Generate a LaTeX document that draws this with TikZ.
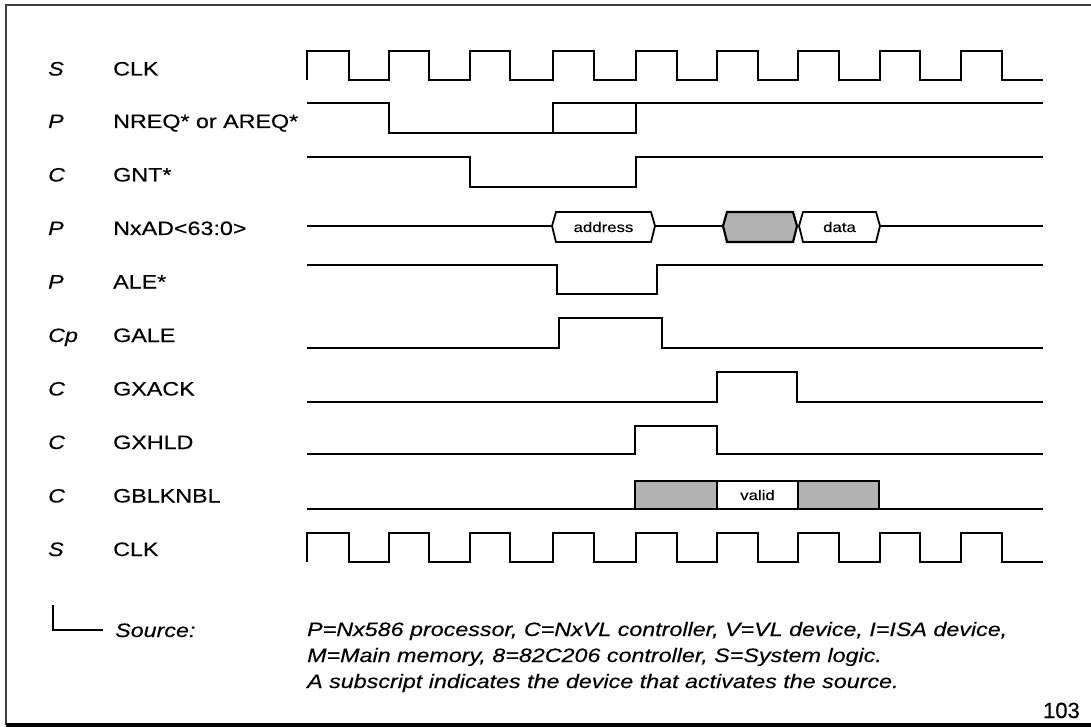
\documentclass[tikz,border=0pt]{standalone}
\usepackage{fontspec}
\setmainfont{Liberation Sans}[FakeStretch=1.2,FakeBold=0.3]
\newfontfamily\numfont{Liberation Sans}[FakeBold=0.3]
\begin{document}
\begin{tikzpicture}[x=1pt,y=-1pt,
  sig/.style={line width=1.8pt, line join=miter},
  frame/.style={line width=1.2pt, draw=black!75},
  src/.style={anchor=base west, inner sep=0pt, font=\fontsize{19.4}{23}\selectfont\itshape},
  nm/.style={anchor=base west, inner sep=0pt, font=\fontsize{19.4}{23}\selectfont},
  boxtxt/.style={inner sep=0pt, font=\fontsize{14}{16}\selectfont},
  shade/.style={fill=black!30, draw=black, line width=2.2pt},
  legend/.style={anchor=base west, inner sep=0pt, font=\fontsize{19.4}{23}\selectfont\itshape}]
\useasboundingbox (0,0) rectangle (1091,727);
% frame
\draw[frame] (1091,5) -- (6,5) -- (6,725);
\draw[line width=3.5pt] (6,725) -- (1091,725);

% labels
\node[src] (s0) at (48,75.5) {S};     \node[nm] (n0) at (113,75.5) {CLK};
\node[src] (s1) at (48,128)  {P};     \node[nm] (n1) at (113,128)  {NREQ* or AREQ*};
\node[src] (s2) at (48,181.5){C};     \node[nm] (n2) at (113,181.5){GNT*};
\node[src] (s3) at (48,235)  {P};     \node[nm] (n3) at (113,235)  {NxAD<63:0>};
\node[src] (s4) at (48,288.5){P};     \node[nm] (n4) at (113,288.5){ALE*};
\node[src] (s5) at (48,342)  {Cp};    \node[nm] (n5) at (113,342)  {GALE};
\node[src] (s6) at (48,395.5){C};     \node[nm] (n6) at (113,395.5){GXACK};
\node[src] (s7) at (48,449)  {C};     \node[nm] (n7) at (113,449)  {GXHLD};
\node[src] (s8) at (48,502.5){C};     \node[nm] (n8) at (113,502.5){GBLKNBL};
\node[src] (s9) at (48,556)  {S};     \node[nm] (n9) at (113,556)  {CLK};

% CLK top
\draw[sig] (307,80) foreach \r/\f in {307/349,389/429,470/510,553/594,636/677,717/758,798/839,880/920,961/1002}
  { -- (\r,80) -- (\r,51) -- (\f,51) -- (\f,80) } -- (1043,80);
% NREQ / AREQ
\draw[sig] (307,103) -- (389,103) -- (389,133) -- (636,133) -- (636,103);
\draw[sig] (553,133) -- (553,103) -- (1043,103);
% GNT
\draw[sig] (307,157) -- (470,157) -- (470,187) -- (636,187) -- (636,157) -- (1043,157);
% NxAD bus
\draw[sig] (307,226) -- (552,226);
\draw[sig] (655,226) -- (723,226);
\draw[sig] (880,226) -- (1043,226);
\draw[sig] (552,226) -- (556,212) -- (651,212) -- (655,226) -- (651,242) -- (556,242) -- cycle;
\node[boxtxt] (addr) at (603.5,227) {address};
\draw[shade] (723,226) -- (727,212) -- (793,212) -- (797,226) -- (793,242) -- (727,242) -- cycle;
\draw[sig] (799,226) -- (803,212) -- (876,212) -- (880,226) -- (876,242) -- (803,242) -- cycle;
\node[boxtxt] (data) at (839.5,227) {data};
% ALE
\draw[sig] (307,265) -- (557,265) -- (557,294) -- (657,294) -- (657,265) -- (1043,265);
% GALE
\draw[sig] (307,348) -- (559,348) -- (559,318) -- (662,318) -- (662,348) -- (1043,348);
% GXACK
\draw[sig] (307,402) -- (717,402) -- (717,372) -- (797,372) -- (797,402) -- (1043,402);
% GXHLD
\draw[sig] (307,454) -- (635,454) -- (635,426) -- (717,426) -- (717,454) -- (1043,454);
% GBLKNBL
\draw[shade] (635,481) rectangle (717,509);
\draw[shade] (798,481) rectangle (879,509);
\draw[sig] (717,481) -- (798,481);
\draw[sig] (307,509) -- (1043,509);
\node[boxtxt] (valid) at (757.5,495) {valid};
% CLK bottom
\draw[sig] (307,562) foreach \r/\f in {307/349,389/429,470/510,553/594,636/677,717/758,798/839,880/920,961/1002}
  { -- (\r,562) -- (\r,533) -- (\f,533) -- (\f,562) } -- (1043,562);

% legend
\coordinate (lt) at (53,605);
\coordinate (lc) at (53,630);
\coordinate (le) at (103,630);
\draw[line width=1.6pt] (lt) -- (lc) -- (le);
\node[legend] (source) at (115,637) {Source:};
\node[legend] (l1) at (307,636) {P=Nx586 processor, C=NxVL controller, V=VL device, I=ISA device,};
\node[legend] (l2) at (307,662) {M=Main memory, 8=82C206 controller, S=System logic.};
\node[legend] (l3) at (307,688) {A subscript indicates the device that activates the source.};
\node[anchor=base east, inner sep=0pt, font=\numfont\fontsize{22}{24}\selectfont] (pg) at (1080,718) {103};
\end{tikzpicture}
\end{document}
